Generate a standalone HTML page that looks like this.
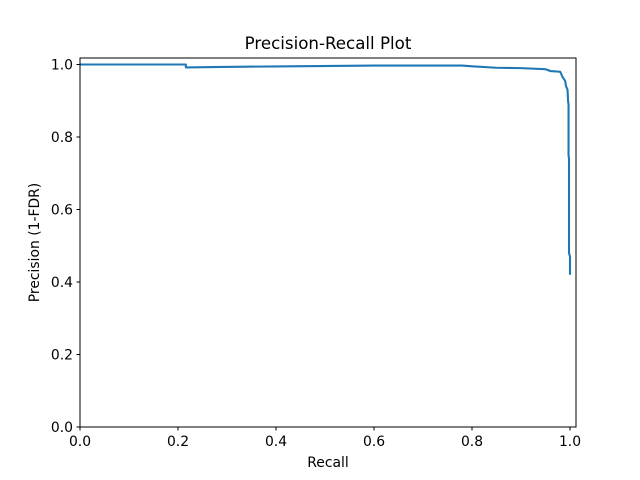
<!DOCTYPE html>
<html><head><meta charset="utf-8"><style>body{margin:0;background:#fff}svg{display:block;font-family:"DejaVu Sans","Liberation Sans",sans-serif}</style></head>
<body>
<svg id="chart" width="640" height="480">
<rect width="640" height="480" fill="#fff"/>
<text x="328" y="49" font-size="16.67" text-anchor="middle">Precision-Recall Plot</text>
<g id="plot"></g>
<rect x="80" y="58" width="496" height="369" fill="none" stroke="#000" stroke-width="1"/>
<text x="328" y="467" font-size="13.9" text-anchor="middle">Recall</text>
<text transform="translate(39,242.5) rotate(-90)" font-size="13.9" text-anchor="middle">Precision (1-FDR)</text>
</svg>
<script>
const recall = [0,0.216,0.216,0.27,0.34,0.43,0.6,0.78,0.8,0.85,0.9,0.95,0.96,0.98,0.985,0.99,0.992,0.995,0.996,0.997,0.997,0.998,0.998,1.0,1.0];
const precision = [1.0,1.0,0.992,0.993,0.994,0.995,0.997,0.997,0.995,0.991,0.99,0.987,0.982,0.98,0.965,0.955,0.94,0.93,0.9,0.89,0.75,0.74,0.48,0.47,0.42];
const xTicks = [0,0.2,0.4,0.6,0.8,1.0];
const yTicks = [0,0.2,0.4,0.6,0.8,1.0];
const xTickLabels = ["0.0","0.2","0.4","0.6","0.8","1.0"];
const yTickLabels = ["0.0","0.2","0.4","0.6","0.8","1.0"];
const NS="http://www.w3.org/2000/svg";
const X = v => 80 + v*490;
const Y = v => 427 - v*362.5;
const g = document.getElementById('plot');
function mk(t,a){const e=document.createElementNS(NS,t);for(const k in a)e.setAttribute(k,a[k]);return e;}
xTicks.forEach((v,i)=>{
  const t=mk('line',{x1:X(v),x2:X(v),y1:427,y2:430.5,stroke:'#000'});
  
  
  g.appendChild(t);
  const l=mk('text',{x:X(v),y:446,'font-size':13.9,'text-anchor':'middle'});
  
  
  l.textContent=xTickLabels[i];g.appendChild(l);
});
yTicks.forEach((v,i)=>{
  const t=mk('line',{x1:76.5,x2:80,y1:Y(v),y2:Y(v),stroke:'#000'});
  
  
  g.appendChild(t);
  const l=mk('text',{x:73,y:Y(v)+5,'font-size':13.9,'text-anchor':'end'});
  
  
  l.textContent=yTickLabels[i];g.appendChild(l);
});
const pts=recall.map((r,i)=>X(r)+','+Y(precision[i])).join(' ');
const line=mk('polyline',{points:pts,fill:'none',stroke:'#1f77b4','stroke-width':2.1,'stroke-linejoin':'round'});


g.appendChild(line);
</script>
</body></html>
